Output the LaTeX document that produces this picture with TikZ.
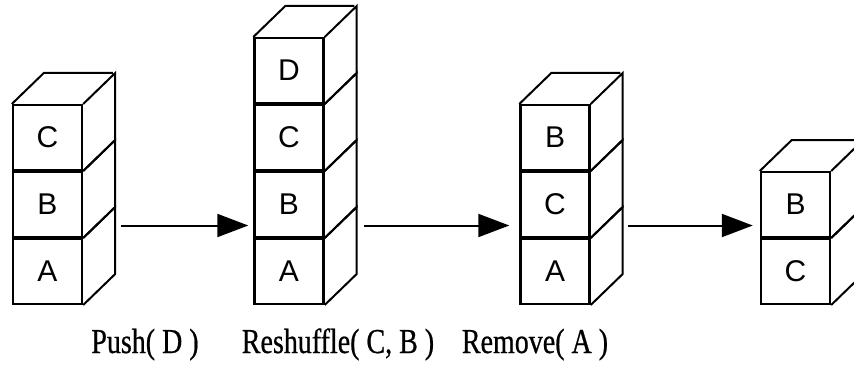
\documentclass[tikz,border=0pt]{standalone}
\usepackage{fontspec}
\setmainfont{Liberation Serif}
\newfontfamily\blockfont{Liberation Sans}
\newfontfamily\capfont[FakeStretch=0.8,FakeBold=0.6]{Liberation Serif}
\usetikzlibrary{arrows.meta,positioning}
\tikzset{
block/.style={draw,line width=2.4pt,minimum width=69pt,minimum height=64.6pt,inner sep=0pt,font=\blockfont\fontsize{30}{32}\selectfont},
side/.style={draw,line width=2pt,line join=miter},
arrow/.style={-{Triangle[length=31pt,width=23pt]},line width=2pt},
caption/.style={anchor=base,font=\capfont\fontsize{35}{38}\selectfont}
}

\begin{document}
\begin{tikzpicture}[x=1pt,y=1pt,node distance=0pt]
\useasboundingbox (0,0) rectangle (854,365);
% stack 1
\node[block] (a1) at (47.5,93.5) {A};
\node[block,above=of a1] (b1) {B};
\node[block,above=of b1] (c1) {C};
% stack 2
\node[block] (a2) at (289,93.5) {A};
\node[block,above=of a2] (b2) {B};
\node[block,above=of b2] (c2) {C};
\node[block,above=of c2] (d2) {D};
% stack 3
\node[block] (a3) at (555,93.5) {A};
\node[block,above=of a3] (c3) {C};
\node[block,above=of c3] (b3) {B};
% stack 4
\node[block] (c4) at (795.5,93.5) {C};
\node[block,above=of c4] (b4) {B};
% side and top faces
\foreach \n in {a1,b1,c1,a2,b2,c2,d2,a3,c3,b3,c4,b4}
  \draw[side] (\n.north east) -- ++(32,31) -- ++(0,-67) -- (\n.south east);
\foreach \n in {c1,d2,b3,b4}
  \draw[side] (\n.north west) -- ++(32,31) -- ++(69,0);
% moves
\draw[arrow] ([xshift=38pt,yshift=-21pt]b1.east) -- ([xshift=-5pt,yshift=-21pt]b2.west);
\draw[arrow] ([xshift=39pt,yshift=-21pt]b2.east) -- ([xshift=-10pt,yshift=-21pt]c3.west);
\draw[arrow] ([xshift=37pt,yshift=-21pt]c3.east) -- ([xshift=-7pt,yshift=-21pt]b4.west);
\node[caption] (push) at (145,12) {Push( D )};
\node[caption] (reshuffle) at (338,12) {Reshuffle( C, B )};
\node[caption] (remove) at (535,12) {Remove( A )};
\end{tikzpicture}
\end{document}
